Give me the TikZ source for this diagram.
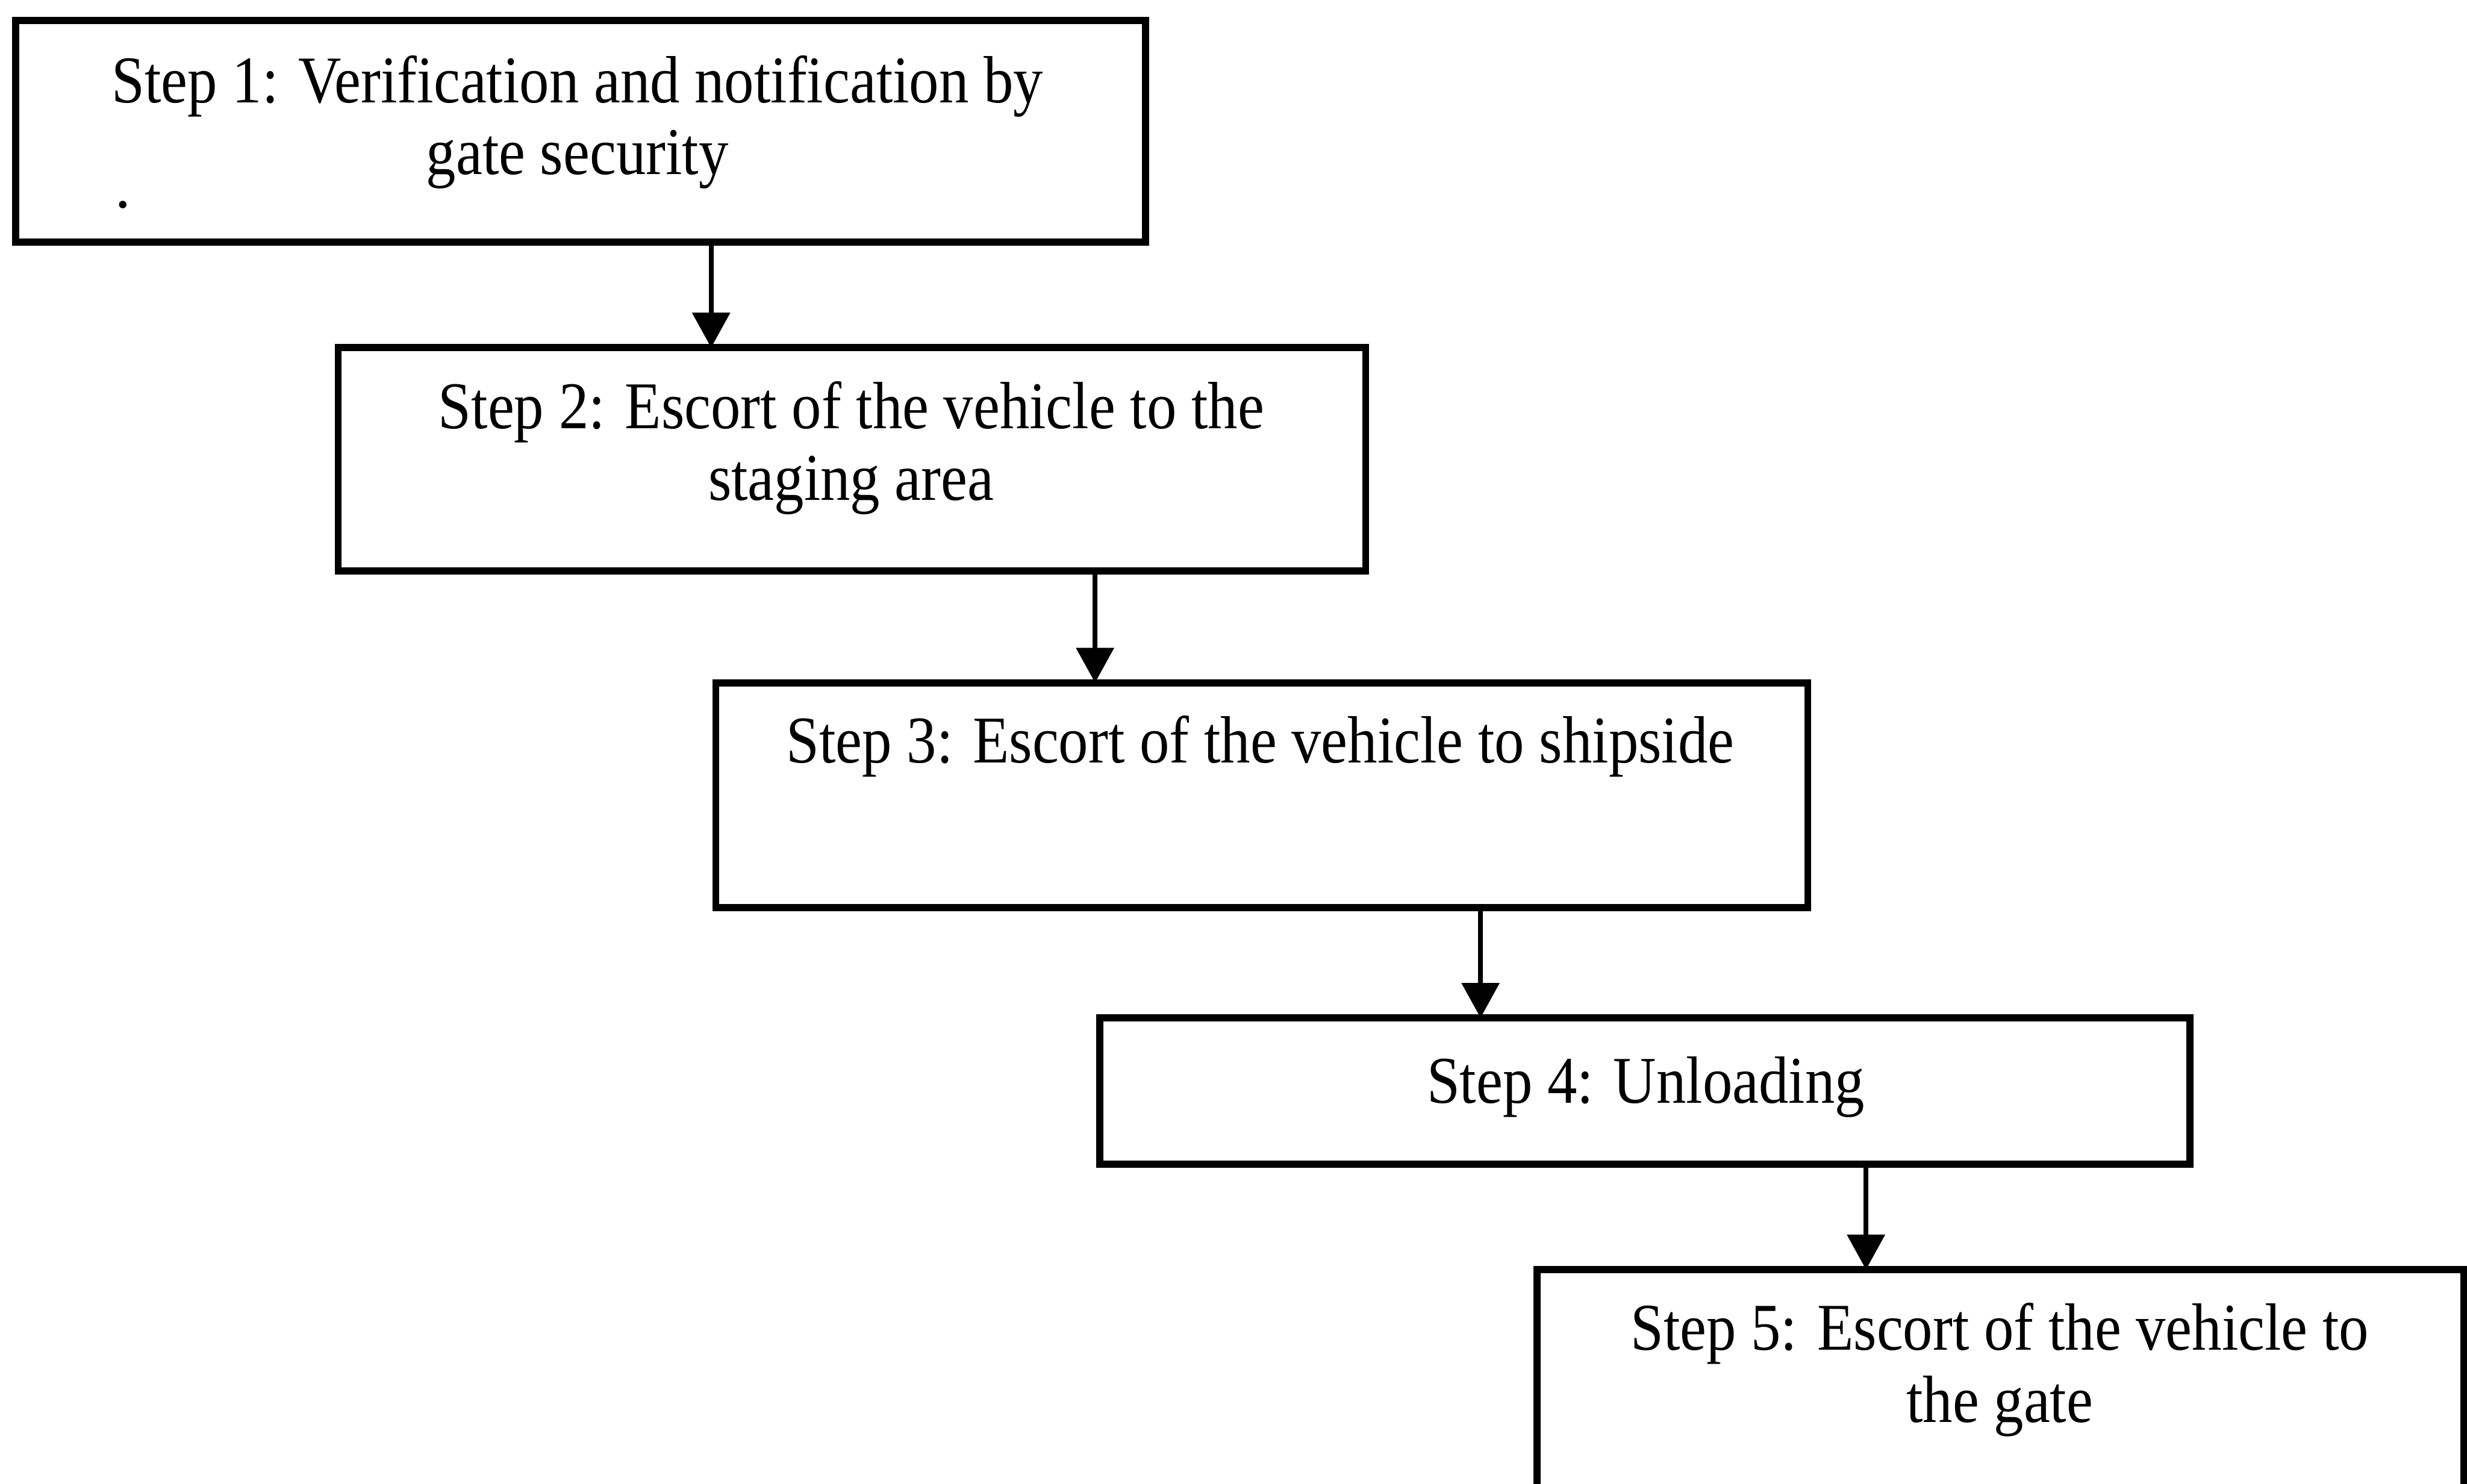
\documentclass[tikz,border=0pt]{standalone}
\usepackage{fontspec}
\setmainfont{Liberation Serif}
\usetikzlibrary{arrows.meta}
% slightly condensed lettering
\newcommand{\narrow}[1]{\scalebox{0.89}[1]{#1}}
\begin{document}
\begin{tikzpicture}[x=0.03145cm, y=-0.03145cm,
  stepbox/.style={draw, rectangle, line width=4pt, inner sep=0pt, outer sep=0pt},
  lbl/.style={font=\fontsize{38}{41}\selectfont, align=center, inner sep=0pt, anchor=base},
  flow/.style={line width=2.9pt, -{Triangle[width=0.74cm, length=0.7cm]}}]
\useasboundingbox (0,0) rectangle (1568,943);
\clip (0,0) rectangle (1568,943);

% process boxes
\node[stepbox, minimum width={718*0.03145cm}, minimum height={141*0.03145cm}] (s1) at (369,83.5) {};
\node[stepbox, minimum width={653*0.03145cm}, minimum height={142*0.03145cm}] (s2) at (541.5,292) {};
\node[stepbox, minimum width={694*0.03145cm}, minimum height={143*0.03145cm}] (s3) at (802,505.5) {};
\node[stepbox, minimum width={693*0.03145cm}, minimum height={93*0.03145cm}] (s4) at (1045.5,693.5) {};
\node[stepbox, minimum width={589*0.03145cm}, minimum height={200*0.03145cm}] (s5) at (1271.5,907) {};

% box texts (base anchor = baseline of the last line)
\node[lbl] (t1) at (367,111) {\narrow{Step 1: Verification and notification by}\\\narrow{gate security}};
\node[lbl] (t2) at (541,318) {\narrow{Step 2: Escort of the vehicle to the}\\\narrow{staging area}};
\node[lbl] (t3) at (801,485) {\narrow{Step 3: Escort of the vehicle to shipside}};
\node[lbl] (t4) at (1046,701) {\narrow{Step 4: Unloading}};
\node[lbl] (t5) at (1271,904) {\narrow{Step 5: Escort of the vehicle to}\\\narrow{the gate}};

% stray mark in the first box
\fill (78,130) circle[radius=0.075cm];

% arrow columns
\coordinate (c1) at (452,0);
\coordinate (c2) at (696,0);
\coordinate (c3) at (941,0);
\coordinate (c4) at (1186,0);

\draw[flow] (s1.south -| c1) -- (s2.north -| c1);
\draw[flow] (s2.south -| c2) -- (s3.north -| c2);
\draw[flow] (s3.south -| c3) -- (s4.north -| c3);
\draw[flow] (s4.south -| c4) -- (s5.north -| c4);
\end{tikzpicture}
\end{document}
